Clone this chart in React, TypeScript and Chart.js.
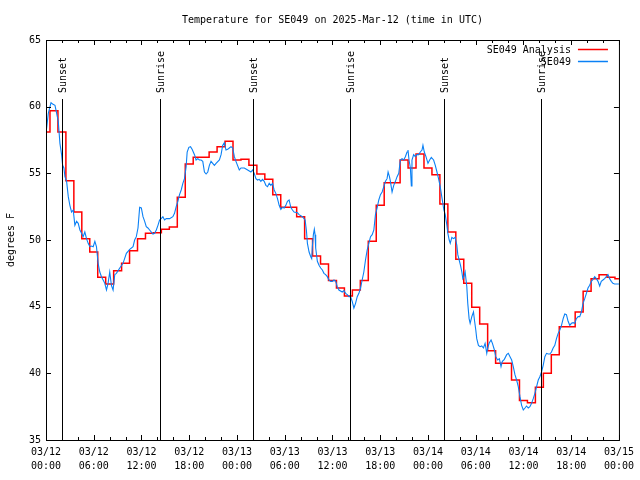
import React, { useEffect, useRef } from 'react';
import { Chart, registerables } from 'chart.js';

Chart.register(...registerables);

const TITLE = 'Temperature for SE049 on 2025-Mar-12 (time in UTC)';
const Y_TITLE = 'degrees F';
const SERIES_ANALYSIS = 'SE049 Analysis';
const SERIES_OBS = 'SE049';

// Hourly analysis temperatures, hour 0 (03/12 00:00) .. hour 72 (03/15 00:00)
const analysisTemps = [
  58.1, 59.7, 58.1, 54.45, 52.1, 50.1, 49.1, 47.2, 46.7, 47.7, 48.25, 49.2,
  50.1, 50.5, 50.55, 50.8, 50.97, 53.2, 55.7, 56.2, 56.2, 56.6, 57.0, 57.4,
  56.0, 56.05, 55.6, 54.95, 54.55, 53.4, 52.45, 52.45, 51.75, 50.1, 48.8, 48.2,
  46.97, 46.4, 45.8, 46.25, 46.97, 49.9, 52.6, 54.3, 54.3, 56.0, 55.4, 56.45,
  55.4, 54.9, 52.7, 50.6, 48.55, 46.75, 44.95, 43.7, 41.7, 40.75, 40.75, 39.5,
  37.97, 37.8, 38.95, 40.0, 41.4, 43.5, 43.5, 44.6, 46.15, 47.1, 47.4, 47.2,
  47.1,
];

// Station observations: [hours since 03/12 00:00, temperature]
const obsDay1: [number, number][] = [
  [0.0, 58.0], [0.08, 58.0], [0.29, 59.5], [0.63, 60.3], [0.83, 60.2], [1.13, 60.1],
  [1.34, 59.5], [1.54, 58.9], [1.75, 57.25], [1.96, 56.4], [2.09, 55.6], [2.25, 55.4],
  [2.38, 54.75], [2.59, 54.4], [2.8, 53.25], [3.0, 52.6], [3.21, 52.1], [3.42, 52.25],
  [3.63, 51.1], [3.84, 51.4], [4.05, 51.25], [4.26, 50.75], [4.47, 50.5], [4.67, 50.25],
  [4.88, 50.6], [5.09, 50.1], [5.3, 49.75], [5.51, 49.5], [5.72, 49.55], [5.93, 49.5],
  [6.14, 49.9], [6.34, 49.5], [6.55, 48.25], [6.76, 47.6], [6.97, 47.25], [7.18, 47.0],
  [7.39, 46.75], [7.6, 46.25], [7.8, 46.75], [8.01, 47.6], [8.22, 46.6], [8.43, 46.25],
  [8.64, 47.4], [8.85, 47.5], [9.27, 47.9], [9.68, 48.25], [10.1, 49.0], [10.52, 49.3],
  [10.94, 49.5], [11.14, 50.0], [11.35, 50.25], [11.56, 50.9], [11.77, 52.45], [11.98, 52.4],
  [12.19, 51.75], [12.4, 51.4], [12.6, 51.0], [12.81, 50.9], [13.02, 50.75], [13.44, 50.45],
  [13.65, 50.5], [13.86, 50.75], [14.07, 51.1], [14.27, 51.5], [14.48, 51.6], [14.69, 51.75],
  [14.9, 51.5], [15.11, 51.6], [15.53, 51.6], [15.94, 51.75], [16.15, 52.0], [16.36, 52.5],
  [16.57, 52.9], [16.78, 53.4], [16.99, 53.75], [17.2, 54.25], [17.4, 54.6], [17.61, 55.5],
  [17.74, 56.6], [17.95, 56.95], [18.16, 57.0], [18.36, 56.8], [18.66, 56.4], [18.86, 56.0],
  [19.07, 56.1], [19.28, 56.0], [19.49, 56.0], [19.7, 55.9], [19.91, 55.1], [20.12, 54.95],
  [20.33, 55.1], [20.53, 55.6], [20.74, 55.9], [20.95, 55.75], [21.16, 55.6], [21.37, 55.75],
  [21.79, 56.0], [22.0, 56.4], [22.2, 57.1], [22.41, 57.3], [22.62, 56.75], [22.83, 56.8],
];

const obsDay2: [number, number][] = [
  [23.04, 56.9], [23.25, 57.0], [23.46, 56.9], [23.67, 56.25], [23.87, 55.9], [24.29, 55.25],
  [24.5, 55.4], [24.92, 55.4], [25.34, 55.25], [25.75, 55.1], [25.96, 55.25], [26.17, 55.0],
  [26.38, 54.6], [26.59, 54.5], [26.8, 54.55], [27.0, 54.4], [27.21, 54.55], [27.42, 54.4],
  [27.63, 54.1], [27.84, 54.0], [28.05, 54.25], [28.26, 54.1], [28.47, 54.25], [28.67, 53.75],
  [28.88, 53.5], [29.09, 53.1], [29.3, 52.6], [29.51, 52.3], [29.72, 52.45], [29.93, 52.4],
  [30.14, 52.6], [30.34, 52.9], [30.55, 53.0], [30.76, 52.45], [30.97, 52.25], [31.18, 52.1],
  [31.6, 52.05], [31.8, 51.9], [32.22, 51.75], [32.56, 51.5], [32.72, 50.75], [32.85, 49.75],
  [33.06, 49.1], [33.27, 48.75], [33.39, 48.6], [33.47, 49.5], [33.6, 50.4], [33.72, 50.8],
  [33.81, 50.4], [33.89, 49.4], [34.1, 48.4], [34.31, 48.1], [34.52, 47.9], [34.73, 47.75],
  [34.93, 47.5], [35.14, 47.4], [35.35, 47.25], [35.56, 47.0], [35.77, 46.9], [35.98, 46.9],
  [36.19, 47.0], [36.4, 46.9], [36.6, 46.5], [36.81, 46.25], [37.23, 46.1], [37.44, 46.2],
  [37.65, 46.0], [37.86, 45.9], [38.07, 45.75], [38.27, 45.75], [38.48, 45.4], [38.69, 44.9],
  [38.9, 45.25], [39.11, 45.75], [39.32, 46.0], [39.53, 46.4], [39.73, 47.0], [39.94, 47.6],
  [40.15, 48.5], [40.36, 49.25], [40.57, 49.75], [40.78, 50.25], [40.99, 50.4], [41.2, 50.75],
  [41.4, 51.9], [41.61, 52.4], [41.82, 53.0], [42.03, 53.4], [42.24, 53.6], [42.45, 54.0],
  [42.66, 54.4], [42.86, 54.6], [42.99, 55.1], [43.16, 54.75], [43.28, 54.4], [43.49, 53.6],
  [43.7, 54.1], [43.91, 54.4], [44.12, 54.75], [44.33, 55.0], [44.53, 56.0], [44.74, 56.1],
  [44.95, 56.0], [45.16, 56.25], [45.37, 56.6], [45.49, 56.75], [45.62, 56.0], [45.79, 55.4],
  [45.91, 54.05], [45.99, 56.0], [46.2, 56.4], [46.41, 56.25], [46.62, 56.4],
];

const obsDay3: [number, number][] = [
  [46.83, 56.4], [47.04, 56.6], [47.25, 56.75], [47.37, 57.1], [47.54, 56.6], [47.75, 56.25],
  [48.0, 55.75], [48.21, 56.0], [48.42, 56.2], [48.71, 56.0], [48.92, 55.6], [49.13, 55.1],
  [49.33, 54.6], [49.54, 54.0], [49.67, 53.5], [49.83, 52.9], [50.0, 52.25], [50.17, 51.9],
  [50.38, 51.1], [50.5, 50.5], [50.67, 50.0], [50.8, 49.75], [51.0, 50.2], [51.21, 50.1],
  [51.42, 50.2], [51.63, 49.6], [51.75, 48.9], [51.92, 48.5], [52.09, 48.1], [52.26, 47.6],
  [52.38, 47.1], [52.51, 47.25], [52.67, 47.6], [52.88, 46.5], [53.0, 45.25], [53.17, 44.1],
  [53.3, 43.75], [53.51, 44.25], [53.72, 44.6], [53.84, 44.0], [54.01, 43.25], [54.13, 42.6],
  [54.34, 42.1], [54.55, 42.0], [54.76, 42.05], [54.97, 41.9], [55.18, 42.25], [55.39, 41.5],
  [55.51, 41.9], [55.68, 42.25], [55.93, 42.5], [56.1, 42.25], [56.35, 41.75], [56.51, 41.25],
  [56.76, 41.0], [56.97, 41.1], [57.18, 40.5], [57.35, 40.9], [57.6, 41.05], [57.89, 41.4],
  [58.1, 41.5], [58.31, 41.25], [58.52, 41.0], [58.72, 40.5], [58.93, 39.9], [59.14, 39.5],
  [59.35, 39.0], [59.56, 38.25], [59.77, 37.6], [59.98, 37.25], [60.19, 37.4], [60.39, 37.55],
  [60.6, 37.4], [60.81, 37.5], [61.02, 37.75], [61.23, 38.1], [61.44, 38.5], [61.65, 39.0],
  [61.86, 39.5], [62.06, 39.75], [62.27, 40.1], [62.48, 40.6], [62.69, 41.25], [62.9, 41.5],
  [63.11, 41.45], [63.32, 41.45], [63.52, 41.6], [63.73, 41.9], [63.94, 42.1], [64.15, 42.6],
  [64.36, 43.0], [64.57, 43.25], [64.78, 43.6], [64.99, 44.1], [65.19, 44.45], [65.4, 44.4],
  [65.61, 43.9], [65.82, 43.6], [66.03, 43.75], [66.24, 43.8], [66.45, 43.75], [66.65, 44.1],
  [66.86, 44.25], [67.07, 44.25], [67.28, 44.6], [67.49, 45.25], [67.7, 45.6], [67.91, 46.0],
  [68.11, 46.4], [68.32, 46.6], [68.53, 46.9], [68.74, 47.05], [68.95, 47.25], [69.16, 47.1],
  [69.37, 46.9], [69.58, 46.55], [69.78, 46.9], [69.99, 47.0], [70.2, 47.1], [70.41, 47.25],
  [70.62, 47.4], [70.83, 47.1], [71.04, 46.9], [71.24, 46.75], [71.45, 46.7], [71.87, 46.7],
  [72.0, 46.7],
];

// Sunset / sunrise events (hours since 03/12 00:00)
const sunEventHours = [1.95, 14.3, 25.97, 38.25, 50.0, 62.17];
const sunEventLabels = ['Sunset', 'Sunrise', 'Sunset', 'Sunrise', 'Sunset', 'Sunrise'];
const sunLineTopTemp = 60.6;

// X tick labels every 6 hours
const xTickDates = ['03/12', '03/12', '03/12', '03/12', '03/13', '03/13', '03/13', '03/13', '03/14', '03/14', '03/14', '03/14', '03/15'];
const xTickTimes = ['00:00', '06:00', '12:00', '18:00', '00:00', '06:00', '12:00', '18:00', '00:00', '06:00', '12:00', '18:00', '00:00'];

const FONT_FAMILY = "'DejaVu Sans Mono', 'Liberation Mono', monospace";
const RED = '#ff0000';
const BLUE = '#0a80f5';

const overlayPlugin = {
  id: 'gnuplotOverlay',
  afterDatasetsDraw(chart: any) {
    const { ctx, chartArea, scales } = chart;
    const { left, right, top, bottom } = chartArea;
    const xs = scales.x;
    const ys = scales.y;
    ctx.save();
    ctx.strokeStyle = '#000';
    ctx.fillStyle = '#000';
    ctx.lineWidth = 1;
    ctx.font = `10px ${FONT_FAMILY}`;

    // sunrise / sunset lines and labels
    const lineTop = Math.round(ys.getPixelForValue(sunLineTopTemp));
    sunEventHours.forEach((h, i) => {
      const px = Math.round(xs.getPixelForValue(h)) + 0.5;
      ctx.beginPath();
      ctx.moveTo(px, lineTop);
      ctx.lineTo(px, bottom);
      ctx.stroke();
      ctx.save();
      ctx.translate(px + 1, lineTop - 6);
      ctx.rotate(-Math.PI / 2);
      ctx.textAlign = 'left';
      ctx.textBaseline = 'middle';
      ctx.fillText(sunEventLabels[i], 0, 0);
      ctx.restore();
    });

    // frame
    ctx.strokeRect(left + 0.5, top + 0.5, right - left, bottom - top);

    // x ticks (major every 6h, minor every 2h), inward, top and bottom
    for (let h = 0; h <= 72; h += 2) {
      const px = Math.round(xs.getPixelForValue(h)) + 0.5;
      const len = h % 6 === 0 ? 5 : 3;
      ctx.beginPath();
      ctx.moveTo(px, bottom);
      ctx.lineTo(px, bottom - len);
      ctx.moveTo(px, top);
      ctx.lineTo(px, top + len);
      ctx.stroke();
    }
    // y ticks, inward, left and right
    for (let v = 35; v <= 65; v += 5) {
      const py = Math.round(ys.getPixelForValue(v)) + 0.5;
      ctx.beginPath();
      ctx.moveTo(left, py);
      ctx.lineTo(left + 5, py);
      ctx.moveTo(right, py);
      ctx.lineTo(right - 5, py);
      ctx.stroke();
    }

    // legend (text right-aligned, sample line to the right)
    const items = [
      { text: SERIES_ANALYSIS, color: RED },
      { text: SERIES_OBS, color: BLUE },
    ];
    items.forEach((it, i) => {
      const ty = top + 10 + i * 12;
      ctx.fillStyle = '#000';
      ctx.textAlign = 'right';
      ctx.textBaseline = 'middle';
      ctx.fillText(it.text, right - 48, ty);
      ctx.save();
      ctx.strokeStyle = it.color;
      ctx.lineWidth = 1.5;
      ctx.beginPath();
      ctx.moveTo(right - 41, Math.round(ty) - 0.5);
      ctx.lineTo(right - 11, Math.round(ty) - 0.5);
      ctx.stroke();
      ctx.restore();
    });
    ctx.restore();
  },
};

export default function App() {
  const canvasRef = useRef<HTMLCanvasElement | null>(null);

  useEffect(() => {
    const canvas = canvasRef.current;
    if (!canvas) return;
    const font = { family: FONT_FAMILY, size: 10, weight: 'normal' as const, lineHeight: 1.2 };
    const obs = [...obsDay1, ...obsDay2, ...obsDay3].map(([x, y]) => ({ x, y }));
    const analysis = analysisTemps.map((v, i) => ({ x: i, y: v }));

    const chart = new Chart(canvas, {
      type: 'line',
      data: {
        datasets: [
          {
            label: SERIES_ANALYSIS,
            data: analysis,
            borderColor: RED,
            borderWidth: 1.5,
            stepped: 'middle',
            pointRadius: 0,
            fill: false,
            order: 1,
          },
          {
            label: SERIES_OBS,
            data: obs,
            borderColor: BLUE,
            borderWidth: 1.1,
            pointRadius: 0,
            tension: 0,
            fill: false,
            order: 0,
          },
        ],
      },
      options: {
        animation: false,
        responsive: false,
        devicePixelRatio: 1,
        layout: { padding: { left: 0, right: 19, top: 0, bottom: 0 } },
        plugins: {
          legend: { display: false },
          tooltip: { enabled: false },
          title: {
            display: true,
            text: TITLE,
            color: '#000',
            fullSize: false,
            font,
            padding: { top: 14, bottom: 14 },
          },
        },
        scales: {
          x: {
            type: 'linear',
            min: 0,
            max: 72,
            grid: { display: true, drawOnChartArea: false, drawTicks: false, color: 'rgba(0,0,0,0)' },
            border: { display: false },
            ticks: {
              stepSize: 6,
              autoSkip: false,
              maxRotation: 0,
              minRotation: 0,
              color: '#000',
              padding: 6,
              font: { ...font, lineHeight: 1.35 },
              callback: (value: any) => {
                const idx = Math.round(Number(value) / 6);
                return [xTickDates[idx], xTickTimes[idx]];
              },
            },
            afterFit: (scale: any) => {
              scale.height = 40;
            },
          },
          y: {
            type: 'linear',
            min: 35,
            max: 65,
            grid: { display: true, drawOnChartArea: false, drawTicks: false, color: 'rgba(0,0,0,0)' },
            border: { display: false },
            ticks: { stepSize: 5, color: '#000', padding: 5, font },
            title: { display: true, text: Y_TITLE, color: '#000', font, padding: { top: 5, bottom: 0 } },
            afterFit: (scale: any) => {
              scale.width = 46;
            },
          },
        },
      },
      plugins: [overlayPlugin],
    });
    return () => chart.destroy();
  }, []);

  return (
    <div style={{ position: 'fixed', left: 0, top: 0, width: 640, height: 480, background: '#fff' }}>
      <canvas ref={canvasRef} width={640} height={480} style={{ display: 'block', width: 640, height: 480 }} />
    </div>
  );
}
